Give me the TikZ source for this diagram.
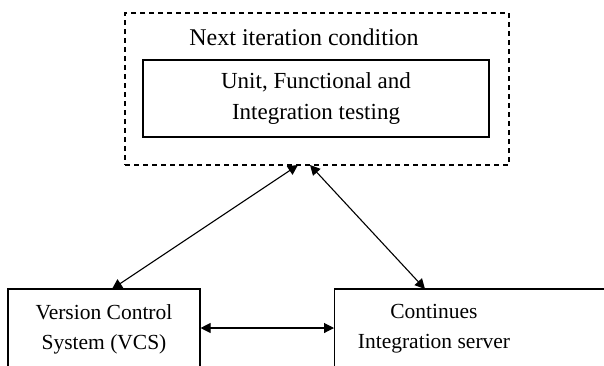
\documentclass[tikz,border=0pt]{standalone}
\usepackage{fontspec}
\setmainfont{Liberation Serif}
\usetikzlibrary{arrows.meta}
\begin{document}
\begin{tikzpicture}[x=1pt,y=-1pt,
  lbl/.style={font=\fontsize{23}{31}\selectfont, align=center, inner sep=0pt},
  lblsmall/.style={font=\fontsize{21.5}{30}\selectfont, align=center, inner sep=0pt},
  box/.style={draw, line width=1.1pt, rectangle, inner sep=0pt},
  dbox/.style={draw, line width=1.1pt, dash pattern=on 5pt off 4pt, rectangle, inner sep=0pt},
  conn/.style={line width=1.1pt, {Triangle[length=10pt,width=10pt]}-{Triangle[length=10pt,width=10pt]}}
]
\useasboundingbox[fill=white] (0,0) rectangle (604,365);
\node[dbox, minimum width=384pt, minimum height=152pt] (outer) at (317,89) {};
\node[lbl, font=\fontsize{24}{30}\selectfont] (title) at (304,37) {Next iteration condition};
\node[box, lbl, minimum width=346pt, minimum height=77pt] (inner) at (316,98.5) {Unit, Functional and\\Integration testing};
\node[box, lblsmall, minimum width=192pt, minimum height=80pt] (vcs) at (104,329) {Version Control\\System (VCS)};
\node[box, minimum width=286pt, minimum height=80pt, anchor=west] (ci) at (334,329) {};
\node[lblsmall] (citext) at (434,329) {Continues\\Integration server};
\coordinate (o1) at (298,165);
\coordinate (o2) at (310,165);
\coordinate (v1) at (112,289);
\coordinate (c1) at (425,289);
\draw[conn] (o1) -- (v1);
\draw[conn] (o2) -- (c1);
\draw[conn] (vcs.east |- 0,328) -- (ci.west |- 0,328);
\end{tikzpicture}
\end{document}
